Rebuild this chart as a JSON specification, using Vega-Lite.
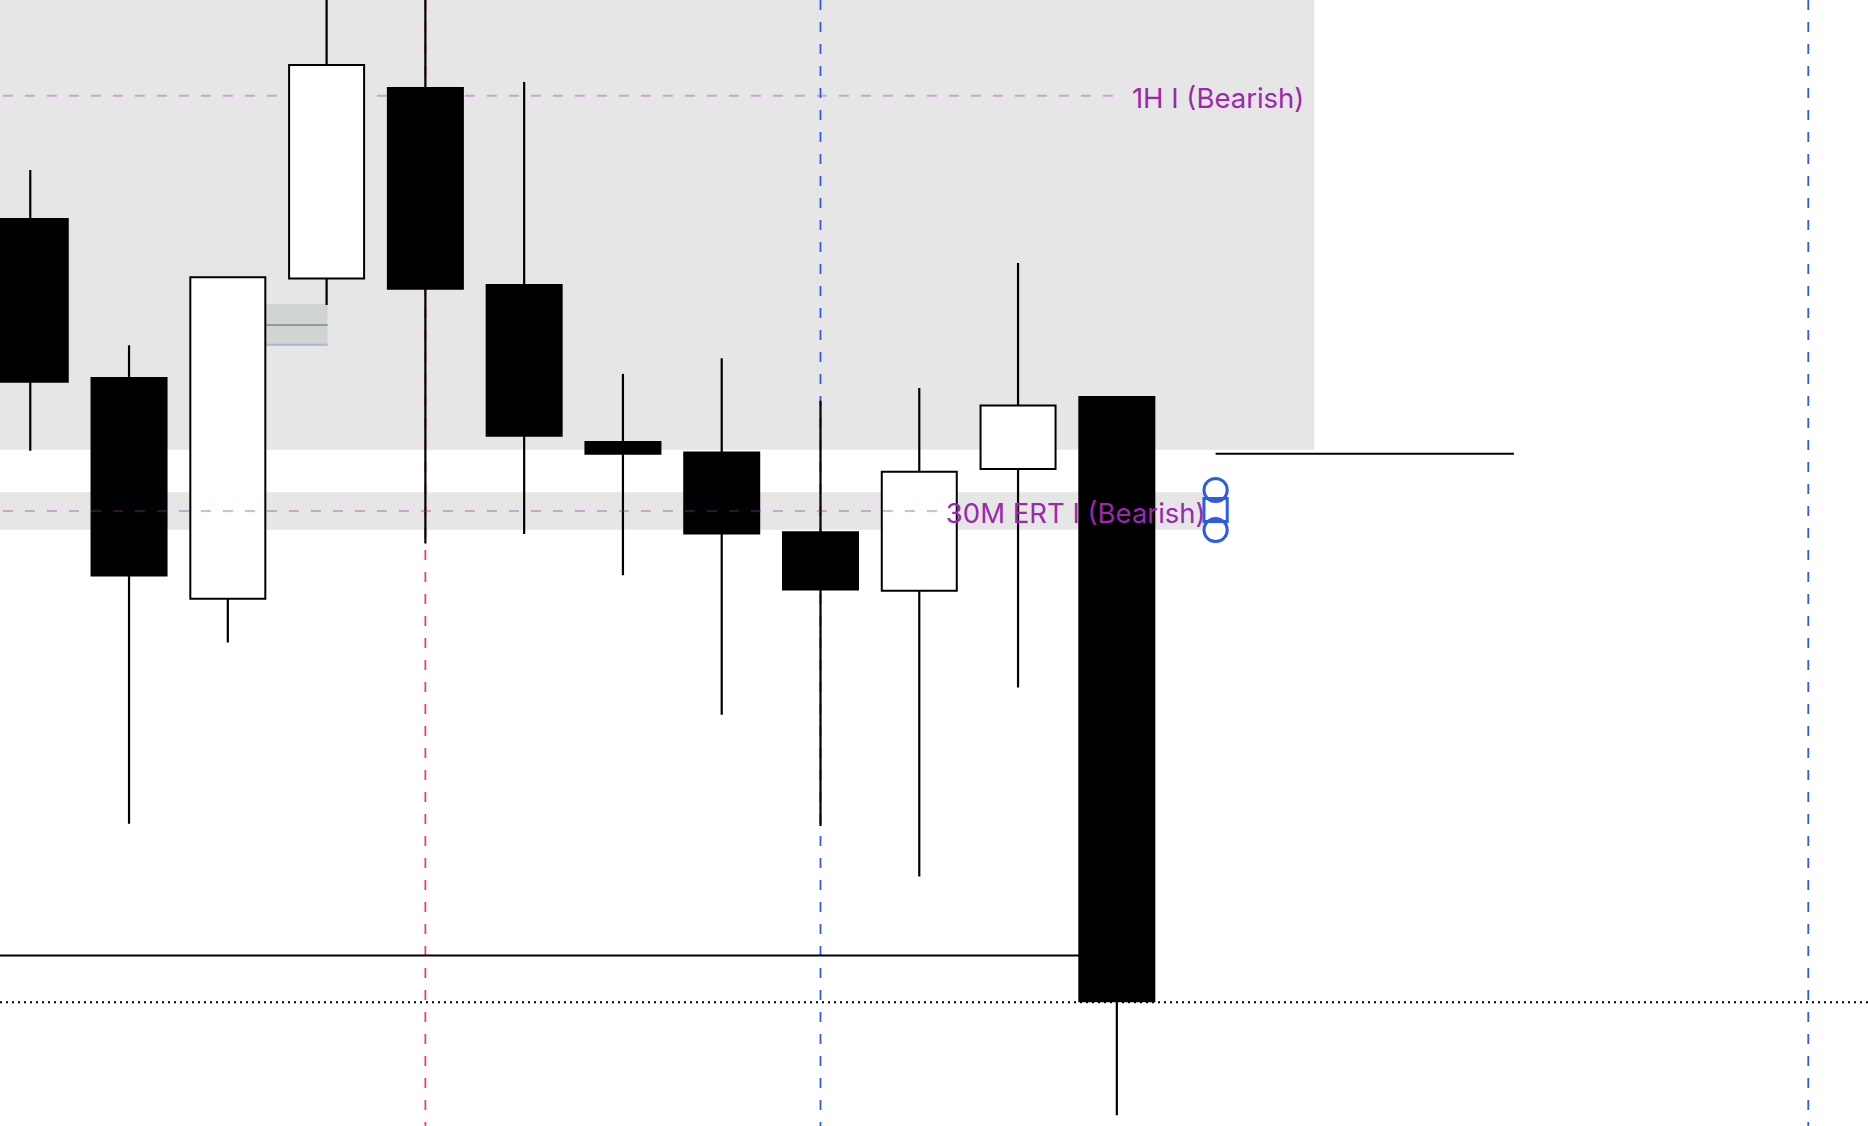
{
  "$schema": "https://vega.github.io/schema/vega-lite/v6.json",
  "width": 1868,
  "height": 1126,
  "padding": 0,
  "autosize": {"type": "none"},
  "background": "#ffffff",
  "config": {"view": {"stroke": null}, "scale": {"continuousPadding": 0}},
  "datasets": {
    "candles": [
      {"i": 1, "open": 907, "high": 956.1, "low": 675.2, "close": 744.3, "dir": "bear"},
      {"i": 2, "open": 748, "high": 780.8, "low": 302.3, "close": 550.4, "dir": "bear"},
      {"i": 3, "open": 527.2, "high": 848.7, "low": 483.5, "close": 848.7, "dir": "bull"},
      {"i": 4, "open": 847.6, "high": 1160, "low": 821, "close": 1061.1, "dir": "bull"},
      {"i": 5, "open": 1038.1, "high": 1160, "low": 582.6, "close": 837.3, "dir": "bear"},
      {"i": 6, "open": 841, "high": 1044.1, "low": 592.1, "close": 690.3, "dir": "bear"},
      {"i": 7, "open": 684.1, "high": 752.1, "low": 550.8, "close": 672.3, "dir": "bear"},
      {"i": 8, "open": 673.4, "high": 767.8, "low": 411.2, "close": 592.4, "dir": "bear"},
      {"i": 9, "open": 593.8, "high": 725.3, "low": 300, "close": 536.4, "dir": "bear"},
      {"i": 10, "open": 535.2, "high": 738, "low": 249.6, "close": 654.3, "dir": "bull"},
      {"i": 11, "open": 657, "high": 863.1, "low": 438.4, "close": 720.5, "dir": "bull"},
      {"i": 12, "open": 728.9, "high": 728.9, "low": 10.8, "close": 124.8, "dir": "bear"}
    ],
    "zones": [
      {"from": 0.5, "to": 14, "top": 1140, "bottom": 676.3},
      {"from": 0.5, "to": 12.89, "top": 633.8, "bottom": 596.3}
    ],
    "vlines": [
      {"i": 5, "marker": "A"},
      {"i": 9, "marker": "B"},
      {"i": 19, "marker": "B"}
    ],
    "levels": [
      {"label": "1H I (Bearish)", "price": 1030.3, "from": 0.5, "to": 12.02, "labelAt": 14, "tf": "1H"},
      {"label": "30M ERT I (Bearish)", "price": 615.1, "from": 0.5, "to": 10.21, "labelAt": 13, "tf": "30M"}
    ],
    "box": [
      {"from": 3, "to": 4.01, "top": 822, "bottom": 780.4, "mid": 801, "base": 781.2}
    ],
    "hlines": [
      {"from": 0.5, "to": 12, "price": 170.5},
      {"from": 13, "to": 16.02, "price": 672.2}
    ],
    "last": [
      {"price": 123.7}
    ],
    "markers": [
      {"i": 13, "price": 636, "kind": "round"},
      {"i": 13, "price": 616, "kind": "flat"},
      {"i": 13, "price": 596, "kind": "round"}
    ]
  },
  "layer": [
    {
      "data": {"name": "zones"},
      "mark": {"type": "rect", "color": "#e6e6e6", "clip": true},
      "encoding": {
        "x": {"field": "from", "type": "quantitative", "axis": null, "scale": {"domain": [0.6936, 19.6046], "nice": false, "zero": false, "padding": 0}},
        "x2": {"field": "to"},
        "y": {"field": "top", "type": "quantitative", "axis": null, "scale": {"domain": [0, 1126], "nice": false, "zero": false, "padding": 0}},
        "y2": {"field": "bottom"}
      }
    },
    {
      "data": {"name": "vlines"},
      "mark": {"type": "rule", "strokeWidth": 1.8, "strokeDash": [10, 12]},
      "encoding": {
        "x": {"field": "i", "type": "quantitative", "axis": null},
        "stroke": {"field": "marker", "type": "nominal", "legend": null, "scale": {"domain": ["A", "B"], "range": ["#e5475a", "#2f5be6"]}}
      }
    },
    {
      "data": {"name": "levels"},
      "transform": [{"filter": "datum.tf === '1H'"}],
      "mark": {"type": "rule", "strokeWidth": 2, "strokeDash": [10, 12], "color": "#9c27b0", "opacity": 0.35, "clip": true},
      "encoding": {
        "x": {"field": "from", "type": "quantitative", "axis": null},
        "x2": {"field": "to"},
        "y": {"field": "price", "type": "quantitative", "axis": null}
      }
    },
    {
      "data": {"name": "box"},
      "mark": {"type": "rect", "color": "#d0d5d1"},
      "encoding": {
        "x": {"field": "from", "type": "quantitative", "axis": null},
        "x2": {"field": "to"},
        "y": {"field": "top", "type": "quantitative", "axis": null},
        "y2": {"field": "bottom"}
      }
    },
    {
      "data": {"name": "box"},
      "mark": {"type": "rule", "strokeWidth": 2, "color": "#929a94"},
      "encoding": {
        "x": {"field": "from", "type": "quantitative", "axis": null},
        "x2": {"field": "to"},
        "y": {"field": "mid", "type": "quantitative", "axis": null}
      }
    },
    {
      "data": {"name": "box"},
      "mark": {"type": "rule", "strokeWidth": 2, "color": "#a9b5da"},
      "encoding": {
        "x": {"field": "from", "type": "quantitative", "axis": null},
        "x2": {"field": "to"},
        "y": {"field": "base", "type": "quantitative", "axis": null}
      }
    },
    {
      "data": {"name": "hlines"},
      "mark": {"type": "rule", "strokeWidth": 2, "color": "#000000", "clip": true},
      "encoding": {
        "x": {"field": "from", "type": "quantitative", "axis": null},
        "x2": {"field": "to"},
        "y": {"field": "price", "type": "quantitative", "axis": null}
      }
    },
    {
      "data": {"name": "last"},
      "mark": {"type": "rule", "strokeWidth": 2, "strokeDash": [2, 4], "color": "#000000"},
      "encoding": {
        "y": {"field": "price", "type": "quantitative", "axis": null}
      }
    },
    {
      "data": {"name": "candles"},
      "mark": {"type": "rule", "strokeWidth": 2.2, "color": "#000000", "clip": true},
      "encoding": {
        "x": {"field": "i", "type": "quantitative", "axis": null},
        "y": {"field": "low", "type": "quantitative", "axis": null},
        "y2": {"field": "high"}
      }
    },
    {
      "data": {"name": "candles"},
      "mark": {"type": "bar", "size": 75, "stroke": "#000000", "strokeWidth": 2, "clip": true},
      "encoding": {
        "x": {"field": "i", "type": "quantitative", "axis": null},
        "y": {"field": "open", "type": "quantitative", "axis": null},
        "y2": {"field": "close"},
        "fill": {"field": "dir", "type": "nominal", "legend": null, "scale": {"domain": ["bear", "bull"], "range": ["#000000", "#ffffff"]}}
      }
    },
    {
      "data": {"name": "levels"},
      "transform": [{"filter": "datum.tf === '30M'"}],
      "mark": {"type": "rule", "strokeWidth": 2, "strokeDash": [10, 12], "color": "#9c27b0", "opacity": 0.35, "clip": true},
      "encoding": {
        "x": {"field": "from", "type": "quantitative", "axis": null},
        "x2": {"field": "to"},
        "y": {"field": "price", "type": "quantitative", "axis": null}
      }
    },
    {
      "data": {"name": "levels"},
      "mark": {"type": "text", "align": "right", "baseline": "alphabetic", "dx": -10, "dy": 12.5, "font": "Inter", "fontSize": 27.5, "color": "#9c27b0"},
      "encoding": {
        "x": {"field": "labelAt", "type": "quantitative", "axis": null},
        "y": {"field": "price", "type": "quantitative", "axis": null},
        "text": {"field": "label"}
      }
    },
    {
      "data": {"name": "markers"},
      "mark": {"type": "point", "filled": false, "size": 540, "strokeWidth": 3, "color": "#2f5be6", "opacity": 1},
      "encoding": {
        "x": {"field": "i", "type": "quantitative", "axis": null},
        "y": {"field": "price", "type": "quantitative", "axis": null},
        "shape": {"field": "kind", "type": "nominal", "legend": null, "scale": {"domain": ["round", "flat"], "range": ["circle", "square"]}}
      }
    }
  ]
}
